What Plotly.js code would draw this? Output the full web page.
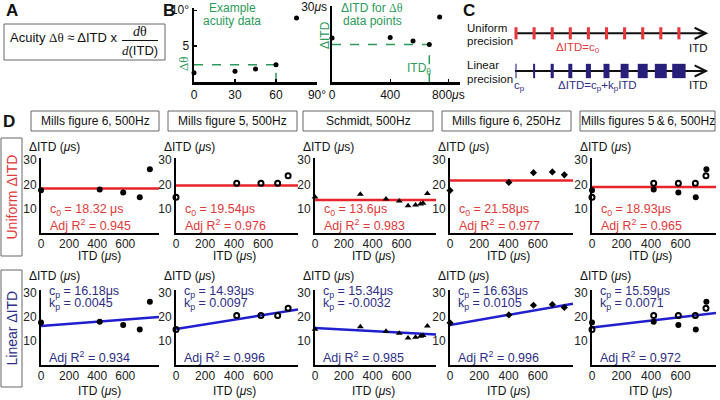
<!DOCTYPE html>
<html>
<head>
<meta charset="utf-8">
<script src="https://cdn.plot.ly/plotly-3.0.1.min.js"></script>
<style>
  html, body { margin: 0; padding: 0; background: #fff; }
  #fig { width: 720px; height: 400px; }
</style>
</head>
<body>
<div id="fig"></div>
<script>
// ---- panel B: example acuity data ----
const acuityAngle = [0, 30, 45, 60, 75];
const acuityDeg = [1.3, 1.5, 1.8, 2.4, 8.9];
const bItd = [0, 400, 557, 669, 740];
const bDitd = [17.6, 17.8, 16.4, 15.0, 26.0];

// ---- panel C: schematic precision ticks ----
const cTickPos = [0, 1, 2, 3, 4, 5, 6, 7, 8, 9];
const uniformPrecision = [0.17, 0.17, 0.17, 0.17, 0.17, 0.17, 0.17, 0.17, 0.17, 0.17];
const linearPrecision = [0.06, 0.11, 0.17, 0.22, 0.28, 0.33, 0.44, 0.55, 0.66, 0.74];

// ---- panel D: datasets ----
const mills6Itd = [0, 418, 585, 703, 775];
const mills6Ditd = [17.6, 17.9, 16.6, 14.7, 26.2];
const mills5Itd = [0, 418, 585, 700, 772];
const mills5Ditd = [14.7, 20.5, 20.5, 20.5, 23.5];
const schmidtItd = [0, 315, 493, 585, 646, 698, 733, 750, 780];
const schmidtDitd = [14.8, 15.9, 14.0, 13.2, 11.2, 11.5, 11.9, 12.2, 16.2];
const mills250Itd = [0, 402, 570, 699, 781];
const mills250Ditd = [17.5, 20.8, 24.8, 25.1, 23.9];

const panelTitles = ['Mills figure 6, 500Hz', 'Mills figure 5, 500Hz', 'Schmidt, 500Hz',
                     'Mills figure 6, 250Hz', 'Mills figures 5\u2009&\u20096, 500Hz'];
const uniformC0 = [18.32, 19.54, 13.6, 21.58, 18.93];
const uniformR2 = [0.945, 0.976, 0.983, 0.977, 0.965];
const linearCp = [16.18, 14.93, 15.34, 16.63, 15.59];
const linearKp = [0.0045, 0.0097, -0.0032, 0.0105, 0.0071];
const linearR2 = [0.934, 0.996, 0.985, 0.996, 0.972];
const itdTicks = [0, 200, 400, 600];
const ditdTicks = [10, 20, 30];

const FONT = 'Liberation Sans, Arial, sans-serif';
const SERIF = 'Liberation Serif, Times New Roman, serif';
const RED = '#e8232a', RED_TXT = '#e03a3a';
const BLUE = '#1f1fcf', BLUE_TXT = '#2e2e86', NAVY = '#271f7a';
const GREEN = '#2b9a5a';

const W = 720, H = 400;
const fx = p => p / W;
const fy = p => 1 - p / H;
const xdom = (a, b) => [fx(a), fx(b)];
const ydom = (top, bottom) => [fy(bottom), fy(top)];

const traces = [];
const annotations = [];
const shapes = [];

function txt(x, y, text, size, color, extra) {
  annotations.push(Object.assign({
    xref: 'paper', yref: 'paper', x: fx(x), y: fy(y), text: text,
    showarrow: false, xanchor: 'center', yanchor: 'middle',
    font: { family: FONT, size: size || 12, color: color || '#111' },
  }, extra || {}));
}
function box(x0, y0, x1, y1) {
  shapes.push({ type: 'rect', xref: 'paper', yref: 'paper',
    x0: fx(x0), x1: fx(x1), y0: fy(y1), y1: fy(y0),
    line: { color: '#666', width: 1 }, fillcolor: 'rgba(0,0,0,0)' });
}

const layout = {
  width: W, height: H, margin: { l: 0, r: 0, t: 0, b: 0 },
  paper_bgcolor: '#fff', plot_bgcolor: 'rgba(0,0,0,0)',
  showlegend: false, barmode: 'overlay',
  font: { family: FONT, size: 12, color: '#111' },
  annotations: annotations, shapes: shapes,
};

// ---- A ----
txt(12, 11, '<b>A</b>', 17, '#111');
box(4, 24, 165, 60);
txt(8, 38, 'Acuity <span style="font-family:' + SERIF + '">\u0394\u03b8</span> \u2248 \u0394ITD x', 13, '#111', { xanchor: 'left' });
txt(140, 32, '<i>d</i>\u03b8', 13, '#111', { font: { family: SERIF, size: 14, color: '#111' } });
txt(140, 50, '<span style="font-family:' + SERIF + '"><i>d</i></span>(ITD)', 13, '#111');
shapes.push({ type: 'line', xref: 'paper', yref: 'paper', x0: fx(122), x1: fx(158), y0: fy(40.5), y1: fy(40.5),
  line: { color: '#111', width: 1 } });

// ---- B ----
txt(169, 11, '<b>B</b>', 17, '#111');
const bAxis = {
  showline: true, linewidth: 2.5, linecolor: '#000', showgrid: false, zeroline: false,
  ticks: 'inside', ticklen: 3, tickwidth: 1.2, tickcolor: '#000',
  tickfont: { family: FONT, size: 12, color: '#111' }, fixedrange: true,
};
layout.xaxis = { ...bAxis, domain: xdom(194, 317), range: [0, 90], anchor: 'y',
  tickvals: [0, 30, 60, 90], ticktext: ['0', '30', '60', '90\u00b0'] };
layout.yaxis = { ...bAxis, domain: ydom(8, 82), range: [0, 10.3], anchor: 'x',
  tickvals: [5, 10], ticktext: ['5', '10\u00b0'] };
layout.xaxis2 = { ...bAxis, domain: xdom(332, 460), range: [0, 880], anchor: 'y2',
  tickvals: [0, 400, 800], ticktext: ['0', '400', '800<i>\u03bc</i>s'] };
layout.yaxis2 = { ...bAxis, domain: ydom(6, 82), range: [0, 30.4], anchor: 'x2',
  tickvals: [30], ticktext: ['30<i>\u03bc</i>s'] };

traces.push({
  x: [0, acuityAngle[3], acuityAngle[3]], y: [acuityDeg[3], acuityDeg[3], 0],
  xaxis: 'x', yaxis: 'y', type: 'scatter', mode: 'lines',
  line: { color: GREEN, width: 1.5, dash: 'dash' }, hoverinfo: 'skip',
});
traces.push({
  x: acuityAngle, y: acuityDeg, xaxis: 'x', yaxis: 'y', type: 'scatter', mode: 'markers',
  marker: { color: '#000', size: 5 }, cliponaxis: false,
});
traces.push({
  x: [0, bItd[3], bItd[3]], y: [bDitd[3], bDitd[3], 0],
  xaxis: 'x2', yaxis: 'y2', type: 'scatter', mode: 'lines',
  line: { color: GREEN, width: 1.5, dash: 'dash' }, hoverinfo: 'skip',
});
traces.push({
  x: bItd, y: bDitd, xaxis: 'x2', yaxis: 'y2', type: 'scatter', mode: 'markers',
  marker: { color: '#000', size: 5 }, cliponaxis: false,
});
txt(232, 8, 'Example', 12, GREEN);
txt(232, 21, 'acuity data', 12, GREEN);
txt(183, 64, '\u0394\u03b8', 12, GREEN, { textangle: -90, font: { family: SERIF, size: 13, color: GREEN } });
txt(372, 8, '\u0394ITD for <span style="font-family:' + SERIF + '">\u0394\u03b8</span>', 12, GREEN);
txt(372, 21, 'data points', 12, GREEN);
txt(325, 35, '\u0394ITD', 12, GREEN, { textangle: -90 });
txt(419, 69, 'ITD<sub>\u03b8</sub>', 12, GREEN);

// ---- C ----
txt(469, 11, '<b>C</b>', 17, '#111');
layout.xaxis3 = { domain: xdom(505, 715), range: [-0.608, 10.994], visible: false, fixedrange: true, anchor: 'y3' };
layout.yaxis3 = { domain: ydom(20, 95), range: [-0.637, 1.353], visible: false, fixedrange: true, anchor: 'x3' };
[1, 0].forEach(lvl => {
  shapes.push({ type: 'line', xref: 'x3', yref: 'y3', x0: -0.06, x1: 10.4, y0: lvl, y1: lvl,
    layer: 'below', line: { color: '#111', width: 2 } });
  annotations.push({ xref: 'x3', yref: 'y3', axref: 'x3', ayref: 'y3', x: 10.62, y: lvl, ax: 10.0, ay: lvl,
    text: '', showarrow: true, arrowhead: 5, arrowsize: 1.1, arrowwidth: 2, arrowcolor: '#111' });
});
traces.push({
  x: cTickPos, y: cTickPos.map(() => 0.32), base: cTickPos.map(() => 0.84),
  width: uniformPrecision, type: 'bar', xaxis: 'x3', yaxis: 'y3',
  marker: { color: '#e8363a', line: { width: 0 } }, hoverinfo: 'skip',
});
traces.push({
  x: cTickPos, y: cTickPos.map(() => 0.38), base: cTickPos.map(() => -0.19),
  width: linearPrecision, type: 'bar', xaxis: 'x3', yaxis: 'y3',
  marker: { color: NAVY, line: { width: 0 } }, hoverinfo: 'skip',
});
txt(465, 28, 'Uniform', 11.5, '#111', { xanchor: 'left' });
txt(465, 40.5, 'precision', 11.5, '#111', { xanchor: 'left' });
txt(578, 47.5, '\u0394ITD=c<sub>0</sub>', 11.5, RED_TXT);
txt(698, 47.5, 'ITD', 11.5, '#111');
txt(465, 65, 'Linear', 11.5, '#111', { xanchor: 'left' });
txt(465, 78.5, 'precision', 11.5, '#111', { xanchor: 'left' });
txt(519, 86, 'c<sub>p</sub>', 11.5, BLUE_TXT);
txt(597, 86, '\u0394ITD=c<sub>p</sub>+k<sub>p</sub>ITD', 11.5, BLUE_TXT);
txt(698, 85, 'ITD', 11.5, '#111');

// ---- D ----
txt(9, 122, '<b>D</b>', 17, '#111');
const colPx = [[41, 159], [176, 298], [315, 436], [450, 573], [592, 716]];
const rowPx = [[157.6, 233], [290.3, 365]];
const headerPx = [[31, 159], [168, 297], [303, 433], [442, 571], [580, 715]];
const colData = [
  [{ x: mills6Itd, y: mills6Ditd, sym: 'circle' }],
  [{ x: mills5Itd, y: mills5Ditd, sym: 'circle-open' }],
  [{ x: schmidtItd, y: schmidtDitd, sym: 'triangle-up' }],
  [{ x: mills250Itd, y: mills250Ditd, sym: 'diamond' }],
  [{ x: mills6Itd, y: mills6Ditd, sym: 'circle' }, { x: mills5Itd, y: mills5Ditd, sym: 'circle-open' }],
];
const markerStyle = {
  'circle': { color: '#000', size: 6 },
  'circle-open': { color: '#000', size: 5, symbol: 'circle-open', line: { width: 2, color: '#000' } },
  'triangle-up': { color: '#000', size: 6, symbol: 'triangle-up' },
  'diamond': { color: '#000', size: 5.5, symbol: 'diamond' },
};
const dAxis = {
  showline: true, linewidth: 2, linecolor: '#000', showgrid: false, zeroline: false,
  ticks: '', tickfont: { family: FONT, size: 12, color: '#222' }, fixedrange: true,
};
const fitX = [0, 840];

headerPx.forEach(([a, b], c) => {
  box(a, 111, b, 131);
  txt((a + b) / 2, 121, panelTitles[c], 12, '#111');
});
box(1, 138, 22, 256);
txt(11.5, 197, 'Uniform \u0394ITD', 14, RED_TXT, { textangle: -90 });
box(1, 270, 22, 387);
txt(11.5, 328, 'Linear \u0394ITD', 14, BLUE_TXT, { textangle: -90 });

rowPx.forEach(([top, bottom], r) => {
  colPx.forEach(([left, right], c) => {
    const n = 4 + r * 5 + c;
    const xa = 'x' + n, ya = 'y' + n;
    layout['xaxis' + n] = { ...dAxis, domain: xdom(left, right), range: [0, 840], anchor: ya,
      tickvals: itdTicks, ticklabelstandoff: -1 };
    layout['yaxis' + n] = { ...dAxis, domain: ydom(top, bottom), range: [0, 31], anchor: xa, tickvals: ditdTicks };

    const fitY = r === 0 ? [uniformC0[c], uniformC0[c]]
                         : fitX.map(v => linearCp[c] + linearKp[c] * v);
    traces.push({ x: fitX, y: fitY, xaxis: xa, yaxis: ya, type: 'scatter', mode: 'lines',
      line: { color: r === 0 ? RED : BLUE, width: 2.5 }, hoverinfo: 'skip' });
    colData[c].forEach(d => {
      traces.push({ x: d.x, y: d.y, xaxis: xa, yaxis: ya, type: 'scatter', mode: 'markers',
        marker: markerStyle[d.sym], cliponaxis: false });
    });

    txt(left - 14, r === 0 ? 147 : 276, '\u0394ITD (<i>\u03bc</i>s)', 12, '#111', { xanchor: 'left' });
    txt(left + 58, r === 0 ? 256 : 391, 'ITD (<i>\u03bc</i>s)', 12, '#111');

    const note = (x, y, text, color) => annotations.push({ xref: xa, yref: ya, x: x, y: y, text: text,
      showarrow: false, xanchor: 'left', yanchor: 'middle', font: { family: FONT, size: 12.5, color: color } });
    if (r === 0) {
      note(50, 9.4, 'c<sub>0</sub> = ' + uniformC0[c] + (c === 0 ? ' ' : '') + '\u03bcs', RED_TXT);
      note(50, 3.3, 'Adj R<sup>2</sup> = ' + uniformR2[c].toFixed(3), RED_TXT);
    } else {
      note(40, 30.4, 'c<sub>p</sub> = ' + linearCp[c].toFixed(2) + '\u03bcs', BLUE_TXT);
      note(40, 25.2, 'k<sub>p</sub> = ' + linearKp[c], BLUE_TXT);
      note(40, 3.4, 'Adj R<sup>2</sup> = ' + linearR2[c].toFixed(3), BLUE_TXT);
    }
  });
});

Plotly.newPlot('fig', traces, layout, { staticPlot: true, displayModeBar: false });
</script>
</body>
</html>
